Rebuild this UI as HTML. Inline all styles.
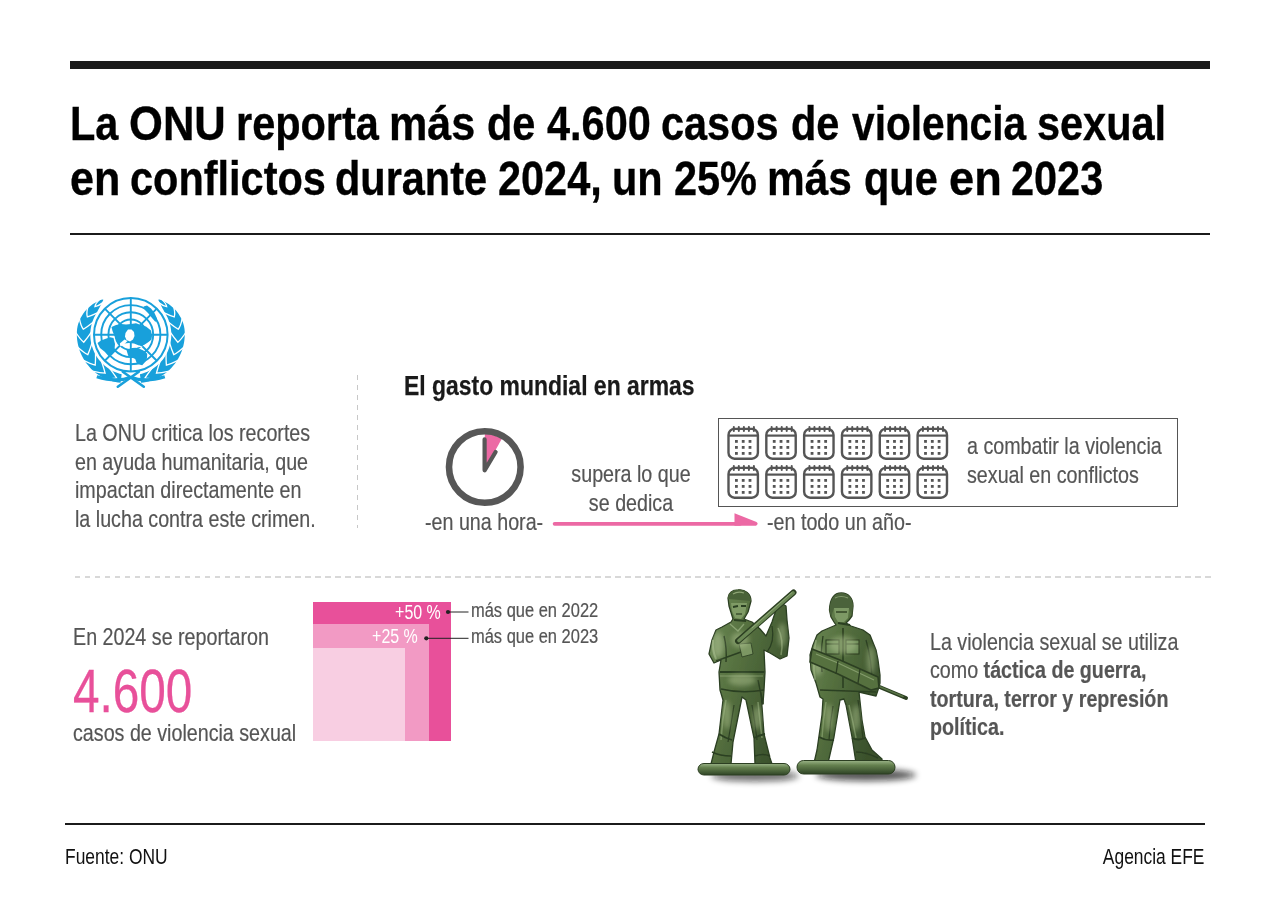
<!DOCTYPE html>
<html><head><meta charset="utf-8"><style>
html,body{margin:0;padding:0;background:#fff;}
body{width:1280px;height:916px;position:relative;overflow:hidden;font-family:"Liberation Sans",sans-serif;}
.t{position:absolute;white-space:nowrap;}
.t b{font-weight:bold;}
svg{position:absolute;left:0;top:0;}
</style></head><body>
<div style="position:absolute;left:70px;top:61px;width:1140px;height:8px;background:#1b1b1b"></div>
<div class="t" style="left:69.9px;top:95.99px;font-size:48.5px;line-height:54px;color:#000;font-weight:bold;transform:scaleX(0.855);transform-origin:0 0;-webkit-text-stroke:0.35px #000;">La</div>
<div class="t" style="left:129.398px;top:95.99px;font-size:48.5px;line-height:54px;color:#000;font-weight:bold;transform:scaleX(0.8986);transform-origin:0 0;-webkit-text-stroke:0.35px #000;">ONU</div>
<div class="t" style="left:236.3px;top:95.99px;font-size:48.5px;line-height:54px;color:#000;font-weight:bold;transform:scaleX(0.855);transform-origin:0 0;-webkit-text-stroke:0.35px #000;">reporta</div>
<div class="t" style="left:389.08px;top:95.99px;font-size:48.5px;line-height:54px;color:#000;font-weight:bold;transform:scaleX(0.8892);transform-origin:0 0;-webkit-text-stroke:0.35px #000;">más</div>
<div class="t" style="left:486.8px;top:95.99px;font-size:48.5px;line-height:54px;color:#000;font-weight:bold;transform:scaleX(0.855);transform-origin:0 0;-webkit-text-stroke:0.35px #000;">de</div>
<div class="t" style="left:547.4px;top:95.99px;font-size:48.5px;line-height:54px;color:#000;font-weight:bold;transform:scaleX(0.855);transform-origin:0 0;-webkit-text-stroke:0.35px #000;">4.600</div>
<div class="t" style="left:661.3px;top:95.99px;font-size:48.5px;line-height:54px;color:#000;font-weight:bold;transform:scaleX(0.855);transform-origin:0 0;-webkit-text-stroke:0.35px #000;">casos</div>
<div class="t" style="left:791.2px;top:95.99px;font-size:48.5px;line-height:54px;color:#000;font-weight:bold;transform:scaleX(0.855);transform-origin:0 0;-webkit-text-stroke:0.35px #000;">de</div>
<div class="t" style="left:851.8px;top:95.99px;font-size:48.5px;line-height:54px;color:#000;font-weight:bold;transform:scaleX(0.8388);transform-origin:0 0;-webkit-text-stroke:0.35px #000;">violencia</div>
<div class="t" style="left:1037.2px;top:95.99px;font-size:48.5px;line-height:54px;color:#000;font-weight:bold;transform:scaleX(0.855);transform-origin:0 0;-webkit-text-stroke:0.35px #000;">sexual</div>
<div class="t" style="left:69.622px;top:150.59px;font-size:48.5px;line-height:54px;color:#000;font-weight:bold;transform:scaleX(0.8883);transform-origin:0 0;-webkit-text-stroke:0.35px #000;">en</div>
<div class="t" style="left:129.5px;top:150.59px;font-size:48.5px;line-height:54px;color:#000;font-weight:bold;transform:scaleX(0.855);transform-origin:0 0;-webkit-text-stroke:0.35px #000;">conflictos</div>
<div class="t" style="left:334.5px;top:150.59px;font-size:48.5px;line-height:54px;color:#000;font-weight:bold;transform:scaleX(0.855);transform-origin:0 0;-webkit-text-stroke:0.35px #000;">durante</div>
<div class="t" style="left:498.4px;top:150.59px;font-size:48.5px;line-height:54px;color:#000;font-weight:bold;transform:scaleX(0.855);transform-origin:0 0;-webkit-text-stroke:0.35px #000;">2024,</div>
<div class="t" style="left:612.2px;top:150.59px;font-size:48.5px;line-height:54px;color:#000;font-weight:bold;transform:scaleX(0.855);transform-origin:0 0;-webkit-text-stroke:0.35px #000;">un</div>
<div class="t" style="left:674.1px;top:150.59px;font-size:48.5px;line-height:54px;color:#000;font-weight:bold;transform:scaleX(0.855);transform-origin:0 0;-webkit-text-stroke:0.35px #000;">25%</div>
<div class="t" style="left:766.931px;top:150.59px;font-size:48.5px;line-height:54px;color:#000;font-weight:bold;transform:scaleX(0.8747);transform-origin:0 0;-webkit-text-stroke:0.35px #000;">más</div>
<div class="t" style="left:864px;top:150.59px;font-size:48.5px;line-height:54px;color:#000;font-weight:bold;transform:scaleX(0.855);transform-origin:0 0;-webkit-text-stroke:0.35px #000;">que</div>
<div class="t" style="left:949.12px;top:150.59px;font-size:48.5px;line-height:54px;color:#000;font-weight:bold;transform:scaleX(0.932);transform-origin:0 0;-webkit-text-stroke:0.35px #000;">en</div>
<div class="t" style="left:1011.3px;top:150.59px;font-size:48.5px;line-height:54px;color:#000;font-weight:bold;transform:scaleX(0.855);transform-origin:0 0;-webkit-text-stroke:0.35px #000;">2023</div>
<div style="position:absolute;left:70px;top:233px;width:1140px;height:2px;background:#1b1b1b"></div>
<div class="t" style="left:74.5px;top:418.78px;font-size:24px;line-height:28.8px;color:#555;font-weight:normal;transform:scaleX(0.82);transform-origin:0 0;-webkit-text-stroke:0.2px #555;">La ONU critica los recortes<br>en ayuda humanitaria, que<br>impactan directamente en<br>la lucha contra este crimen.</div>
<div style="position:absolute;left:357px;top:375px;width:1px;height:153px;background:repeating-linear-gradient(to bottom,#c8c8c8 0 5px,transparent 5px 10px)"></div>
<div class="t" style="left:404px;top:369.17px;font-size:27.5px;line-height:33.0px;color:#1a1a1a;font-weight:bold;transform:scaleX(0.834);transform-origin:0 0;-webkit-text-stroke:0.25px #1a1a1a;">El gasto mundial en armas</div>
<div class="t" style="left:131px;width:1000px;text-align:center;top:458.68px;font-size:24px;line-height:29px;color:#555;font-weight:normal;transform:scaleX(0.82);transform-origin:50% 0;-webkit-text-stroke:0.2px #555;">supera lo que<br>se dedica</div>
<div class="t" style="left:424.5px;top:508.08px;font-size:24px;line-height:28.799999999999997px;color:#555;font-weight:normal;transform:scaleX(0.82);transform-origin:0 0;-webkit-text-stroke:0.2px #555;">-en una hora-</div>
<div class="t" style="left:766.5px;top:508.08px;font-size:24px;line-height:28.799999999999997px;color:#555;font-weight:normal;transform:scaleX(0.82);transform-origin:0 0;-webkit-text-stroke:0.2px #555;">-en todo un año-</div>
<div class="t" style="left:966.5px;top:431.08px;font-size:24px;line-height:29.2px;color:#555;font-weight:normal;transform:scaleX(0.82);transform-origin:0 0;-webkit-text-stroke:0.2px #555;">a combatir la violencia<br>sexual en conflictos</div>
<div style="position:absolute;left:718px;top:418px;width:458px;height:87px;border:1px solid #555"></div>
<div style="position:absolute;left:75px;top:576px;width:1136px;height:2px;background:repeating-linear-gradient(to right,#d8d8d8 0 5.5px,transparent 5.5px 10px)"></div>
<div class="t" style="left:73px;top:623.28px;font-size:24px;line-height:28.799999999999997px;color:#555;font-weight:normal;transform:scaleX(0.82);transform-origin:0 0;-webkit-text-stroke:0.2px #555;">En 2024 se reportaron</div>
<div class="t" style="left:72.5px;top:653.61px;font-size:61.9px;line-height:74.28px;color:#e8509a;font-weight:normal;transform:scaleX(0.771);transform-origin:0 0;-webkit-text-stroke:0.3px #e8509a;">4.600</div>
<div class="t" style="left:73px;top:718.78px;font-size:24px;line-height:28.799999999999997px;color:#555;font-weight:normal;transform:scaleX(0.82);transform-origin:0 0;-webkit-text-stroke:0.2px #555;">casos de violencia sexual</div>
<div style="position:absolute;left:313px;top:602px;width:138px;height:139px;background:#e8509a"></div>
<div style="position:absolute;left:313px;top:624px;width:116px;height:117px;background:#f29ac4"></div>
<div style="position:absolute;left:313px;top:648px;width:92px;height:93px;background:#f8cee2"></div>
<div class="t" style="right:839px;top:601.04px;font-size:19.5px;line-height:23.4px;color:#fff;font-weight:normal;transform:scaleX(0.82);transform-origin:100% 0;">+50 %</div>
<div class="t" style="right:862px;top:625.04px;font-size:19.5px;line-height:23.4px;color:#fff;font-weight:normal;transform:scaleX(0.82);transform-origin:100% 0;">+25 %</div>
<div class="t" style="left:471px;top:596.97px;font-size:20px;line-height:26.2px;color:#555;font-weight:normal;transform:scaleX(0.823);transform-origin:0 0;-webkit-text-stroke:0.2px #555;">más que en 2022<br>más que en 2023</div>
<div class="t" style="left:930px;top:627.68px;font-size:24px;line-height:28.6px;color:#555;font-weight:normal;transform:scaleX(0.82);transform-origin:0 0;-webkit-text-stroke:0.2px #555;">La violencia sexual se utiliza<br>como <b>táctica de guerra,</b><br><b>tortura, terror y represión</b><br><b>política.</b></div>
<div style="position:absolute;left:65px;top:822.5px;width:1140px;height:2px;background:#1b1b1b"></div>
<div class="t" style="left:65px;top:844.65px;font-size:21.5px;line-height:25.8px;color:#111;font-weight:normal;transform:scaleX(0.81);transform-origin:0 0;">Fuente: ONU</div>
<div class="t" style="right:76px;top:844.95px;font-size:21.5px;line-height:25.8px;color:#111;font-weight:normal;transform:scaleX(0.81);transform-origin:100% 0;">Agencia EFE</div>

<svg width="1280" height="916" viewBox="0 0 1280 916"><path d="M484.6,470.0 L484.8,434.0 A33.0,33.0 0 0 1 501.80,438.71 Z" fill="#ec69a4"/><circle cx="484.8" cy="467.0" r="35.8" fill="none" stroke="#575757" stroke-width="6.6"/><path d="M484.6,439.3 L484.6,470.3 L495.6,452" fill="none" stroke="#575757" stroke-width="4.2" stroke-linecap="round" stroke-linejoin="round"/><path d="M554.6,523.85 L740,523.85" stroke="#ec69a4" stroke-width="3.7" stroke-linecap="round"/><path d="M734.5,513.2 L734.5,525.7 L756,525.7 Q759,523.8 756.5,522 Z" fill="#ec69a4"/><rect x="728.50" y="428.90" width="29.4" height="29.8" rx="6" ry="6" fill="none" stroke="#555" stroke-width="2.4"/><path d="M728.50,435.60 H757.90" stroke="#555" stroke-width="2.2"/><path d="M733.80,427.00 V431.10" stroke="#555" stroke-width="2" stroke-linecap="round"/><path d="M738.80,427.00 V431.10" stroke="#555" stroke-width="2" stroke-linecap="round"/><path d="M743.90,427.00 V431.10" stroke="#555" stroke-width="2" stroke-linecap="round"/><path d="M748.90,427.00 V431.10" stroke="#555" stroke-width="2" stroke-linecap="round"/><path d="M753.90,427.00 V431.10" stroke="#555" stroke-width="2" stroke-linecap="round"/><rect x="735.00" y="440.00" width="2.8" height="2.8" fill="#555"/><rect x="735.00" y="446.00" width="2.8" height="2.8" fill="#555"/><rect x="735.00" y="452.00" width="2.8" height="2.8" fill="#555"/><rect x="741.80" y="440.00" width="2.8" height="2.8" fill="#555"/><rect x="741.80" y="446.00" width="2.8" height="2.8" fill="#555"/><rect x="741.80" y="452.00" width="2.8" height="2.8" fill="#555"/><rect x="748.60" y="440.00" width="2.8" height="2.8" fill="#555"/><rect x="748.60" y="446.00" width="2.8" height="2.8" fill="#555"/><rect x="748.60" y="452.00" width="2.8" height="2.8" fill="#555"/><rect x="766.32" y="428.90" width="29.4" height="29.8" rx="6" ry="6" fill="none" stroke="#555" stroke-width="2.4"/><path d="M766.32,435.60 H795.72" stroke="#555" stroke-width="2.2"/><path d="M771.62,427.00 V431.10" stroke="#555" stroke-width="2" stroke-linecap="round"/><path d="M776.62,427.00 V431.10" stroke="#555" stroke-width="2" stroke-linecap="round"/><path d="M781.72,427.00 V431.10" stroke="#555" stroke-width="2" stroke-linecap="round"/><path d="M786.72,427.00 V431.10" stroke="#555" stroke-width="2" stroke-linecap="round"/><path d="M791.72,427.00 V431.10" stroke="#555" stroke-width="2" stroke-linecap="round"/><rect x="772.82" y="440.00" width="2.8" height="2.8" fill="#555"/><rect x="772.82" y="446.00" width="2.8" height="2.8" fill="#555"/><rect x="772.82" y="452.00" width="2.8" height="2.8" fill="#555"/><rect x="779.62" y="440.00" width="2.8" height="2.8" fill="#555"/><rect x="779.62" y="446.00" width="2.8" height="2.8" fill="#555"/><rect x="779.62" y="452.00" width="2.8" height="2.8" fill="#555"/><rect x="786.42" y="440.00" width="2.8" height="2.8" fill="#555"/><rect x="786.42" y="446.00" width="2.8" height="2.8" fill="#555"/><rect x="786.42" y="452.00" width="2.8" height="2.8" fill="#555"/><rect x="804.14" y="428.90" width="29.4" height="29.8" rx="6" ry="6" fill="none" stroke="#555" stroke-width="2.4"/><path d="M804.14,435.60 H833.54" stroke="#555" stroke-width="2.2"/><path d="M809.44,427.00 V431.10" stroke="#555" stroke-width="2" stroke-linecap="round"/><path d="M814.44,427.00 V431.10" stroke="#555" stroke-width="2" stroke-linecap="round"/><path d="M819.54,427.00 V431.10" stroke="#555" stroke-width="2" stroke-linecap="round"/><path d="M824.54,427.00 V431.10" stroke="#555" stroke-width="2" stroke-linecap="round"/><path d="M829.54,427.00 V431.10" stroke="#555" stroke-width="2" stroke-linecap="round"/><rect x="810.64" y="440.00" width="2.8" height="2.8" fill="#555"/><rect x="810.64" y="446.00" width="2.8" height="2.8" fill="#555"/><rect x="810.64" y="452.00" width="2.8" height="2.8" fill="#555"/><rect x="817.44" y="440.00" width="2.8" height="2.8" fill="#555"/><rect x="817.44" y="446.00" width="2.8" height="2.8" fill="#555"/><rect x="817.44" y="452.00" width="2.8" height="2.8" fill="#555"/><rect x="824.24" y="440.00" width="2.8" height="2.8" fill="#555"/><rect x="824.24" y="446.00" width="2.8" height="2.8" fill="#555"/><rect x="824.24" y="452.00" width="2.8" height="2.8" fill="#555"/><rect x="841.96" y="428.90" width="29.4" height="29.8" rx="6" ry="6" fill="none" stroke="#555" stroke-width="2.4"/><path d="M841.96,435.60 H871.36" stroke="#555" stroke-width="2.2"/><path d="M847.26,427.00 V431.10" stroke="#555" stroke-width="2" stroke-linecap="round"/><path d="M852.26,427.00 V431.10" stroke="#555" stroke-width="2" stroke-linecap="round"/><path d="M857.36,427.00 V431.10" stroke="#555" stroke-width="2" stroke-linecap="round"/><path d="M862.36,427.00 V431.10" stroke="#555" stroke-width="2" stroke-linecap="round"/><path d="M867.36,427.00 V431.10" stroke="#555" stroke-width="2" stroke-linecap="round"/><rect x="848.46" y="440.00" width="2.8" height="2.8" fill="#555"/><rect x="848.46" y="446.00" width="2.8" height="2.8" fill="#555"/><rect x="848.46" y="452.00" width="2.8" height="2.8" fill="#555"/><rect x="855.26" y="440.00" width="2.8" height="2.8" fill="#555"/><rect x="855.26" y="446.00" width="2.8" height="2.8" fill="#555"/><rect x="855.26" y="452.00" width="2.8" height="2.8" fill="#555"/><rect x="862.06" y="440.00" width="2.8" height="2.8" fill="#555"/><rect x="862.06" y="446.00" width="2.8" height="2.8" fill="#555"/><rect x="862.06" y="452.00" width="2.8" height="2.8" fill="#555"/><rect x="879.78" y="428.90" width="29.4" height="29.8" rx="6" ry="6" fill="none" stroke="#555" stroke-width="2.4"/><path d="M879.78,435.60 H909.18" stroke="#555" stroke-width="2.2"/><path d="M885.08,427.00 V431.10" stroke="#555" stroke-width="2" stroke-linecap="round"/><path d="M890.08,427.00 V431.10" stroke="#555" stroke-width="2" stroke-linecap="round"/><path d="M895.18,427.00 V431.10" stroke="#555" stroke-width="2" stroke-linecap="round"/><path d="M900.18,427.00 V431.10" stroke="#555" stroke-width="2" stroke-linecap="round"/><path d="M905.18,427.00 V431.10" stroke="#555" stroke-width="2" stroke-linecap="round"/><rect x="886.28" y="440.00" width="2.8" height="2.8" fill="#555"/><rect x="886.28" y="446.00" width="2.8" height="2.8" fill="#555"/><rect x="886.28" y="452.00" width="2.8" height="2.8" fill="#555"/><rect x="893.08" y="440.00" width="2.8" height="2.8" fill="#555"/><rect x="893.08" y="446.00" width="2.8" height="2.8" fill="#555"/><rect x="893.08" y="452.00" width="2.8" height="2.8" fill="#555"/><rect x="899.88" y="440.00" width="2.8" height="2.8" fill="#555"/><rect x="899.88" y="446.00" width="2.8" height="2.8" fill="#555"/><rect x="899.88" y="452.00" width="2.8" height="2.8" fill="#555"/><rect x="917.60" y="428.90" width="29.4" height="29.8" rx="6" ry="6" fill="none" stroke="#555" stroke-width="2.4"/><path d="M917.60,435.60 H947.00" stroke="#555" stroke-width="2.2"/><path d="M922.90,427.00 V431.10" stroke="#555" stroke-width="2" stroke-linecap="round"/><path d="M927.90,427.00 V431.10" stroke="#555" stroke-width="2" stroke-linecap="round"/><path d="M933.00,427.00 V431.10" stroke="#555" stroke-width="2" stroke-linecap="round"/><path d="M938.00,427.00 V431.10" stroke="#555" stroke-width="2" stroke-linecap="round"/><path d="M943.00,427.00 V431.10" stroke="#555" stroke-width="2" stroke-linecap="round"/><rect x="924.10" y="440.00" width="2.8" height="2.8" fill="#555"/><rect x="924.10" y="446.00" width="2.8" height="2.8" fill="#555"/><rect x="924.10" y="452.00" width="2.8" height="2.8" fill="#555"/><rect x="930.90" y="440.00" width="2.8" height="2.8" fill="#555"/><rect x="930.90" y="446.00" width="2.8" height="2.8" fill="#555"/><rect x="930.90" y="452.00" width="2.8" height="2.8" fill="#555"/><rect x="937.70" y="440.00" width="2.8" height="2.8" fill="#555"/><rect x="937.70" y="446.00" width="2.8" height="2.8" fill="#555"/><rect x="937.70" y="452.00" width="2.8" height="2.8" fill="#555"/><rect x="728.50" y="467.90" width="29.4" height="29.8" rx="6" ry="6" fill="none" stroke="#555" stroke-width="2.4"/><path d="M728.50,474.60 H757.90" stroke="#555" stroke-width="2.2"/><path d="M733.80,466.00 V470.10" stroke="#555" stroke-width="2" stroke-linecap="round"/><path d="M738.80,466.00 V470.10" stroke="#555" stroke-width="2" stroke-linecap="round"/><path d="M743.90,466.00 V470.10" stroke="#555" stroke-width="2" stroke-linecap="round"/><path d="M748.90,466.00 V470.10" stroke="#555" stroke-width="2" stroke-linecap="round"/><path d="M753.90,466.00 V470.10" stroke="#555" stroke-width="2" stroke-linecap="round"/><rect x="735.00" y="479.00" width="2.8" height="2.8" fill="#555"/><rect x="735.00" y="485.00" width="2.8" height="2.8" fill="#555"/><rect x="735.00" y="491.00" width="2.8" height="2.8" fill="#555"/><rect x="741.80" y="479.00" width="2.8" height="2.8" fill="#555"/><rect x="741.80" y="485.00" width="2.8" height="2.8" fill="#555"/><rect x="741.80" y="491.00" width="2.8" height="2.8" fill="#555"/><rect x="748.60" y="479.00" width="2.8" height="2.8" fill="#555"/><rect x="748.60" y="485.00" width="2.8" height="2.8" fill="#555"/><rect x="748.60" y="491.00" width="2.8" height="2.8" fill="#555"/><rect x="766.32" y="467.90" width="29.4" height="29.8" rx="6" ry="6" fill="none" stroke="#555" stroke-width="2.4"/><path d="M766.32,474.60 H795.72" stroke="#555" stroke-width="2.2"/><path d="M771.62,466.00 V470.10" stroke="#555" stroke-width="2" stroke-linecap="round"/><path d="M776.62,466.00 V470.10" stroke="#555" stroke-width="2" stroke-linecap="round"/><path d="M781.72,466.00 V470.10" stroke="#555" stroke-width="2" stroke-linecap="round"/><path d="M786.72,466.00 V470.10" stroke="#555" stroke-width="2" stroke-linecap="round"/><path d="M791.72,466.00 V470.10" stroke="#555" stroke-width="2" stroke-linecap="round"/><rect x="772.82" y="479.00" width="2.8" height="2.8" fill="#555"/><rect x="772.82" y="485.00" width="2.8" height="2.8" fill="#555"/><rect x="772.82" y="491.00" width="2.8" height="2.8" fill="#555"/><rect x="779.62" y="479.00" width="2.8" height="2.8" fill="#555"/><rect x="779.62" y="485.00" width="2.8" height="2.8" fill="#555"/><rect x="779.62" y="491.00" width="2.8" height="2.8" fill="#555"/><rect x="786.42" y="479.00" width="2.8" height="2.8" fill="#555"/><rect x="786.42" y="485.00" width="2.8" height="2.8" fill="#555"/><rect x="786.42" y="491.00" width="2.8" height="2.8" fill="#555"/><rect x="804.14" y="467.90" width="29.4" height="29.8" rx="6" ry="6" fill="none" stroke="#555" stroke-width="2.4"/><path d="M804.14,474.60 H833.54" stroke="#555" stroke-width="2.2"/><path d="M809.44,466.00 V470.10" stroke="#555" stroke-width="2" stroke-linecap="round"/><path d="M814.44,466.00 V470.10" stroke="#555" stroke-width="2" stroke-linecap="round"/><path d="M819.54,466.00 V470.10" stroke="#555" stroke-width="2" stroke-linecap="round"/><path d="M824.54,466.00 V470.10" stroke="#555" stroke-width="2" stroke-linecap="round"/><path d="M829.54,466.00 V470.10" stroke="#555" stroke-width="2" stroke-linecap="round"/><rect x="810.64" y="479.00" width="2.8" height="2.8" fill="#555"/><rect x="810.64" y="485.00" width="2.8" height="2.8" fill="#555"/><rect x="810.64" y="491.00" width="2.8" height="2.8" fill="#555"/><rect x="817.44" y="479.00" width="2.8" height="2.8" fill="#555"/><rect x="817.44" y="485.00" width="2.8" height="2.8" fill="#555"/><rect x="817.44" y="491.00" width="2.8" height="2.8" fill="#555"/><rect x="824.24" y="479.00" width="2.8" height="2.8" fill="#555"/><rect x="824.24" y="485.00" width="2.8" height="2.8" fill="#555"/><rect x="824.24" y="491.00" width="2.8" height="2.8" fill="#555"/><rect x="841.96" y="467.90" width="29.4" height="29.8" rx="6" ry="6" fill="none" stroke="#555" stroke-width="2.4"/><path d="M841.96,474.60 H871.36" stroke="#555" stroke-width="2.2"/><path d="M847.26,466.00 V470.10" stroke="#555" stroke-width="2" stroke-linecap="round"/><path d="M852.26,466.00 V470.10" stroke="#555" stroke-width="2" stroke-linecap="round"/><path d="M857.36,466.00 V470.10" stroke="#555" stroke-width="2" stroke-linecap="round"/><path d="M862.36,466.00 V470.10" stroke="#555" stroke-width="2" stroke-linecap="round"/><path d="M867.36,466.00 V470.10" stroke="#555" stroke-width="2" stroke-linecap="round"/><rect x="848.46" y="479.00" width="2.8" height="2.8" fill="#555"/><rect x="848.46" y="485.00" width="2.8" height="2.8" fill="#555"/><rect x="848.46" y="491.00" width="2.8" height="2.8" fill="#555"/><rect x="855.26" y="479.00" width="2.8" height="2.8" fill="#555"/><rect x="855.26" y="485.00" width="2.8" height="2.8" fill="#555"/><rect x="855.26" y="491.00" width="2.8" height="2.8" fill="#555"/><rect x="862.06" y="479.00" width="2.8" height="2.8" fill="#555"/><rect x="862.06" y="485.00" width="2.8" height="2.8" fill="#555"/><rect x="862.06" y="491.00" width="2.8" height="2.8" fill="#555"/><rect x="879.78" y="467.90" width="29.4" height="29.8" rx="6" ry="6" fill="none" stroke="#555" stroke-width="2.4"/><path d="M879.78,474.60 H909.18" stroke="#555" stroke-width="2.2"/><path d="M885.08,466.00 V470.10" stroke="#555" stroke-width="2" stroke-linecap="round"/><path d="M890.08,466.00 V470.10" stroke="#555" stroke-width="2" stroke-linecap="round"/><path d="M895.18,466.00 V470.10" stroke="#555" stroke-width="2" stroke-linecap="round"/><path d="M900.18,466.00 V470.10" stroke="#555" stroke-width="2" stroke-linecap="round"/><path d="M905.18,466.00 V470.10" stroke="#555" stroke-width="2" stroke-linecap="round"/><rect x="886.28" y="479.00" width="2.8" height="2.8" fill="#555"/><rect x="886.28" y="485.00" width="2.8" height="2.8" fill="#555"/><rect x="886.28" y="491.00" width="2.8" height="2.8" fill="#555"/><rect x="893.08" y="479.00" width="2.8" height="2.8" fill="#555"/><rect x="893.08" y="485.00" width="2.8" height="2.8" fill="#555"/><rect x="893.08" y="491.00" width="2.8" height="2.8" fill="#555"/><rect x="899.88" y="479.00" width="2.8" height="2.8" fill="#555"/><rect x="899.88" y="485.00" width="2.8" height="2.8" fill="#555"/><rect x="899.88" y="491.00" width="2.8" height="2.8" fill="#555"/><rect x="917.60" y="467.90" width="29.4" height="29.8" rx="6" ry="6" fill="none" stroke="#555" stroke-width="2.4"/><path d="M917.60,474.60 H947.00" stroke="#555" stroke-width="2.2"/><path d="M922.90,466.00 V470.10" stroke="#555" stroke-width="2" stroke-linecap="round"/><path d="M927.90,466.00 V470.10" stroke="#555" stroke-width="2" stroke-linecap="round"/><path d="M933.00,466.00 V470.10" stroke="#555" stroke-width="2" stroke-linecap="round"/><path d="M938.00,466.00 V470.10" stroke="#555" stroke-width="2" stroke-linecap="round"/><path d="M943.00,466.00 V470.10" stroke="#555" stroke-width="2" stroke-linecap="round"/><rect x="924.10" y="479.00" width="2.8" height="2.8" fill="#555"/><rect x="924.10" y="485.00" width="2.8" height="2.8" fill="#555"/><rect x="924.10" y="491.00" width="2.8" height="2.8" fill="#555"/><rect x="930.90" y="479.00" width="2.8" height="2.8" fill="#555"/><rect x="930.90" y="485.00" width="2.8" height="2.8" fill="#555"/><rect x="930.90" y="491.00" width="2.8" height="2.8" fill="#555"/><rect x="937.70" y="479.00" width="2.8" height="2.8" fill="#555"/><rect x="937.70" y="485.00" width="2.8" height="2.8" fill="#555"/><rect x="937.70" y="491.00" width="2.8" height="2.8" fill="#555"/><circle cx="448" cy="612" r="2.1" fill="#222"/><path d="M448,612 H468.5" stroke="#222" stroke-width="1"/><circle cx="426.3" cy="638.3" r="2.1" fill="#222"/><path d="M426.3,638.3 H468.5" stroke="#222" stroke-width="1"/><g fill="none" stroke="#18a0db"><circle cx="130.8" cy="334.7" r="36.8" stroke-width="2"/><circle cx="130.8" cy="334.7" r="29.6" stroke-width="1.9"/><circle cx="130.8" cy="334.7" r="22.4" stroke-width="1.9"/><circle cx="130.8" cy="334.7" r="15.2" stroke-width="1.9"/><path d="M94.00000000000001,334.7 H167.60000000000002 M130.8,297.9 V371.5" stroke-width="1.9"/><path d="M104.78,308.68 L156.82,360.72 M156.82,308.68 L104.78,360.72" stroke-width="1.9"/></g><g fill="#18a0db"><path d="M111.5,327 L116,325 L121,324 L126,324.5 L131,324 L136,323.2 L141,325 L146,326.4 L151,330.5 L152,336 L151.5,339.5 L148.5,342 L144,345 L139,345.5 L134,343.5 L129,343 L124,343.5 L119,344.5 L117,340.5 L114.5,336 L112.5,331 Z"/><path d="M126.5,350 L131,348.2 L135.2,347.4 L139,348.5 L143.4,350.4 L147.2,353.8 L147,358 L146,361 L142.2,365.2 L137.1,364 L135.2,359 L131,357 L128.2,355.7 Z"/><path d="M97.5,343 L101,340.5 L105,339 L110,337.2 L113.5,338 L115,344 L114.5,350 L112,354.5 L108.5,356 L105,352 L100,348 Z"/><path d="M143.5,306.5 L147,305.5 L151,308.5 L154.5,313 L157,318.5 L155.5,322 L152,318 L148,313 L145,310 Z"/></g><path d="M125.5,333 L128,329.5 L131.5,329.5 L134,332 L134.5,336 L133,339.5 L130,341.5 L126.5,340 L125,336.5 Z" fill="#fff"/><path d="M124.5,339.5 L127.5,341 L124,344.5 L120.5,346.5 L119.8,343.5 Z" fill="#fff"/><path d="M140,345.8 L143,346.5 L137,347.6 L131,347.8 Z" fill="#fff"/><path d="M120.57,382.81 L118.00,382.47 L115.43,381.99 L112.88,381.38 L110.36,380.62 L107.86,379.72 L105.41,378.68 L103.00,377.51 L100.65,376.19 L98.37,374.74 L96.17,373.16 L94.04,371.46 L92.01,369.63 L90.07,367.68 L88.25,365.62 L86.53,363.45 L84.94,361.18 L83.47,358.82 L82.14,356.37 L80.94,353.84 L79.89,351.24 L78.99,348.58 L78.24,345.87 L77.65,343.12 L77.21,340.33 L76.94,337.52 L76.83,334.70 L76.88,331.87 L77.10,329.06 L77.58,326.27 L78.32,323.54 L79.28,320.90 L80.44,318.34 L81.79,315.89 L83.30,313.55 L84.97,311.35 L86.79,309.29 L88.73,307.38 L90.79,305.63 L92.95,304.05 L95.19,302.64 L97.50,301.40 L99.87,300.35 L102.28,299.49 L103.40,299.63 L102.27,301.88 L101.20,304.04 L100.16,306.13 L99.14,308.14 L98.13,310.08 L97.11,311.98 L96.08,313.84 L95.04,315.69 L94.09,317.58 L93.25,319.53 L92.51,321.51 L91.87,323.54 L91.34,325.59 L90.92,327.67 L90.60,329.76 L90.40,331.87 L90.31,333.99 L90.32,336.11 L90.45,338.23 L90.69,340.34 L91.04,342.43 L91.50,344.50 L92.07,346.54 L92.74,348.55 L93.52,350.52 L94.40,352.45 L95.38,354.33 L96.45,356.16 L97.62,357.93 L98.89,359.63 L100.23,361.27 L101.67,362.83 L103.18,364.32 L104.77,365.72 L106.43,367.04 L108.15,368.28 L109.94,369.42 L111.79,370.46 L113.68,371.41 L115.63,372.25 L117.61,372.99 L119.64,373.63 L121.69,374.16 Z" fill="#18a0db"/><path d="M109.29,367.83 Q114.32,374.48 116.70,378.08 Q112.56,378.74 103.61,379.07" fill="none" stroke="#fff" stroke-width="1.3"/><path d="M101.38,361.06 Q104.05,368.88 105.10,373.21 Q100.79,373.05 92.08,371.19" fill="none" stroke="#fff" stroke-width="1.3"/><path d="M95.52,352.46 Q95.63,360.64 95.18,365.20 Q90.89,364.14 83.05,360.20" fill="none" stroke="#fff" stroke-width="1.3"/><path d="M92.10,342.62 Q89.75,350.35 87.82,354.61 Q83.81,352.62 77.44,346.92" fill="none" stroke="#fff" stroke-width="1.3"/><path d="M91.38,332.24 Q86.91,338.79 83.75,342.27 Q80.29,339.41 75.85,332.49" fill="none" stroke="#fff" stroke-width="1.3"/><path d="M93.39,322.03 Q87.38,326.88 83.37,329.24 Q80.74,325.68 79.44,318.51" fill="none" stroke="#fff" stroke-width="1.3"/><path d="M97.90,312.63 Q91.44,315.71 87.41,316.92 Q86.13,313.15 87.91,307.17" fill="none" stroke="#fff" stroke-width="1.3"/><path d="M102.93,302.64 Q98.30,306.15 94.95,306.69 Q95.32,303.53 99.34,299.89" fill="none" stroke="#fff" stroke-width="1.3"/><path d="M141.03,382.81 L143.60,382.47 L146.17,381.99 L148.72,381.38 L151.24,380.62 L153.74,379.72 L156.19,378.68 L158.60,377.51 L160.95,376.19 L163.23,374.74 L165.43,373.16 L167.56,371.46 L169.59,369.63 L171.53,367.68 L173.35,365.62 L175.07,363.45 L176.66,361.18 L178.13,358.82 L179.46,356.37 L180.66,353.84 L181.71,351.24 L182.61,348.58 L183.36,345.87 L183.95,343.12 L184.39,340.33 L184.66,337.52 L184.77,334.70 L184.72,331.87 L184.50,329.06 L184.02,326.27 L183.28,323.54 L182.32,320.90 L181.16,318.34 L179.81,315.89 L178.30,313.55 L176.63,311.35 L174.81,309.29 L172.87,307.38 L170.81,305.63 L168.65,304.05 L166.41,302.64 L164.10,301.40 L161.73,300.35 L159.32,299.49 L158.20,299.63 L159.33,301.88 L160.40,304.04 L161.44,306.13 L162.46,308.14 L163.47,310.08 L164.49,311.98 L165.52,313.84 L166.56,315.69 L167.51,317.58 L168.35,319.53 L169.09,321.51 L169.73,323.54 L170.26,325.59 L170.68,327.67 L171.00,329.76 L171.20,331.87 L171.29,333.99 L171.28,336.11 L171.15,338.23 L170.91,340.34 L170.56,342.43 L170.10,344.50 L169.53,346.54 L168.86,348.55 L168.08,350.52 L167.20,352.45 L166.22,354.33 L165.15,356.16 L163.98,357.93 L162.71,359.63 L161.37,361.27 L159.93,362.83 L158.42,364.32 L156.83,365.72 L155.17,367.04 L153.45,368.28 L151.66,369.42 L149.81,370.46 L147.92,371.41 L145.97,372.25 L143.99,372.99 L141.96,373.63 L139.91,374.16 Z" fill="#18a0db"/><path d="M152.31,367.83 Q147.28,374.48 144.90,378.08 Q149.04,378.74 157.99,379.07" fill="none" stroke="#fff" stroke-width="1.3"/><path d="M160.22,361.06 Q157.55,368.88 156.50,373.21 Q160.81,373.05 169.52,371.19" fill="none" stroke="#fff" stroke-width="1.3"/><path d="M166.08,352.46 Q165.97,360.64 166.42,365.20 Q170.71,364.14 178.55,360.20" fill="none" stroke="#fff" stroke-width="1.3"/><path d="M169.50,342.62 Q171.85,350.35 173.78,354.61 Q177.79,352.62 184.16,346.92" fill="none" stroke="#fff" stroke-width="1.3"/><path d="M170.22,332.24 Q174.69,338.79 177.85,342.27 Q181.31,339.41 185.75,332.49" fill="none" stroke="#fff" stroke-width="1.3"/><path d="M168.21,322.03 Q174.22,326.88 178.23,329.24 Q180.86,325.68 182.16,318.51" fill="none" stroke="#fff" stroke-width="1.3"/><path d="M163.70,312.63 Q170.16,315.71 174.19,316.92 Q175.47,313.15 173.69,307.17" fill="none" stroke="#fff" stroke-width="1.3"/><path d="M158.67,302.64 Q163.30,306.15 166.65,306.69 Q166.28,303.53 162.26,299.89" fill="none" stroke="#fff" stroke-width="1.3"/><path d="M96.80000000000001,376.7 Q116.80000000000001,382.7 130.8,377.2 M164.8,376.7 Q144.8,382.7 130.8,377.2" stroke="#18a0db" stroke-width="3.2" fill="none"/><path d="M117.80000000000001,386.7 L138.8,371.7 M143.8,386.7 L122.80000000000001,371.7" stroke="#18a0db" stroke-width="2.6" fill="none" stroke-linecap="round"/><defs><linearGradient id="sg" x1="0" y1="0" x2="1" y2="0.6"><stop offset="0" stop-color="#6f8c58"/><stop offset="0.45" stop-color="#55703f"/><stop offset="1" stop-color="#3a512c"/></linearGradient><linearGradient id="bg" x1="0" y1="0" x2="0" y2="1"><stop offset="0" stop-color="#9bb488"/><stop offset="0.35" stop-color="#65814f"/><stop offset="1" stop-color="#2f4426"/></linearGradient><filter id="blur" x="-30%" y="-150%" width="160%" height="400%"><feGaussianBlur stdDeviation="3.2"/></filter><filter id="hblur" x="-50%" y="-50%" width="200%" height="200%"><feGaussianBlur stdDeviation="2.5"/></filter><filter id="soft" x="-5%" y="-5%" width="110%" height="110%"><feGaussianBlur stdDeviation="0.45"/></filter></defs><ellipse cx="755" cy="776" rx="44" ry="5.5" fill="#111" opacity="0.6" filter="url(#blur)"/><ellipse cx="866" cy="775" rx="50" ry="6" fill="#111" opacity="0.7" filter="url(#blur)"/><g filter="url(#soft)"><path d="M738,590 C745,589 751,594 751,601 L748,612 L744,619 L752,622 L760,629 L766,636 L772,622 L776,610 L781,603 L786,606 L787,620 L789,638 L787,656 L780,659 L770,653 L764,650 L765,672 L764,690 L763,704 L761,693 L764,734 L770,758 L772,764 L755,764 L754,738 L746,700 L742,697 L733,742 L731,764 L711,764 L714,752 L719,734 L723,700 L720,690 L719,672 L721,660 L714,663 L709,654 L712,640 L716,630 L722,627 L731,622 L733,619 L729,606 L728,598 C729,592 733,590 738,590 Z" fill="url(#sg)" stroke="#2c3f22" stroke-width="1.3" stroke-linejoin="round"/><path d="M728,599 C728,592 733,589.5 738.5,589.5 C745,589.5 751,594 751,601 L740,600 Z" fill="#4a6238"/><path d="M733,594 Q738,591 744,593" stroke="#a9c08f" stroke-width="1.2" fill="none" opacity="0.7"/><path d="M731,603 L747,603 L745,614 L741,619 L735,618 L732,611 Z" fill="#7f9b66"/><path d="M733,607 L738,606 M741,606 L746,606" stroke="#2c3f22" stroke-width="1.8"/><path d="M736,614 L742,614" stroke="#2c3f22" stroke-width="1.2"/><path d="M734,620 L746,621" stroke="#2c3f22" stroke-width="2"/><path d="M730,624 L738,631 L744,624" stroke="#a9c08f" stroke-width="1.3" fill="none" opacity="0.6"/><path d="M713,640 Q712,650 716,659" stroke="#a9c08f" stroke-width="2" fill="none" opacity="0.55"/><path d="M724,636 Q727,648 726,662 M716,661 Q730,656 741,652" stroke="#2c3f22" stroke-width="1.4" fill="none"/><path d="M778,628 Q784,640 781,655" stroke="#a9c08f" stroke-width="1.6" fill="none" opacity="0.5"/><path d="M767,652 Q775,642 772,626" stroke="#2c3f22" stroke-width="1.2" fill="none"/><path d="M739,644 L751,643 L753,654 L742,657 Z" fill="#7b9763" stroke="#2c3f22" stroke-width="0.8"/><path d="M720,672 L764,672" stroke="#2c3f22" stroke-width="2"/><path d="M720,676 L763,676" stroke="#a9c08f" stroke-width="1" opacity="0.5"/><path d="M721,689 Q742,694 764,690" stroke="#2c3f22" stroke-width="1.6" fill="none"/><path d="M758,680 L763,704" stroke="#2c3f22" stroke-width="1.4" fill="none"/><path d="M726,700 Q722,720 721,740 M758,702 Q760,722 762,738" stroke="#a9c08f" stroke-width="1.6" fill="none" opacity="0.45"/><path d="M734,705 Q731,725 728,742 M752,705 Q755,722 757,740" stroke="#2c3f22" stroke-width="1.2" fill="none"/><path d="M719,734 Q725,738 732,740 M754,738 Q760,735 765,734" stroke="#2c3f22" stroke-width="1.8" fill="none"/><path d="M712,752 Q720,756 731,756 M755,756 Q763,753 770,756" stroke="#2c3f22" stroke-width="1.4" fill="none"/></g><clipPath id="c1"><path d="M738,590 C745,589 751,594 751,601 L748,612 L744,619 L752,622 L760,629 L766,636 L772,622 L776,610 L781,603 L786,606 L787,620 L789,638 L787,656 L780,659 L770,653 L764,650 L765,672 L764,690 L763,704 L761,693 L764,734 L770,758 L772,764 L755,764 L754,738 L746,700 L742,697 L733,742 L731,764 L711,764 L714,752 L719,734 L723,700 L720,690 L719,672 L721,660 L714,663 L709,654 L712,640 L716,630 L722,627 L731,622 L733,619 L729,606 L728,598 C729,592 733,590 738,590 Z"/></clipPath><g clip-path="url(#c1)" filter="url(#hblur)" opacity="0.45"><ellipse cx="718" cy="645" rx="6" ry="13" fill="#c5d6a8"/><ellipse cx="740" cy="640" rx="9" ry="8" fill="#b9cc9a"/><ellipse cx="742" cy="680" rx="14" ry="6" fill="#b9cc9a"/><ellipse cx="727" cy="715" rx="4" ry="14" fill="#b9cc9a"/><ellipse cx="757" cy="718" rx="4" ry="12" fill="#b9cc9a"/><ellipse cx="782" cy="635" rx="4" ry="12" fill="#b9cc9a"/></g><path d="M793.5,592.5 L738,641" stroke="#2c3f22" stroke-width="6" stroke-linecap="round"/><path d="M793,593 L739,640.5" stroke="#6a8754" stroke-width="3.6" stroke-linecap="round"/><path d="M792,592.5 L752,628" stroke="#a9c08f" stroke-width="1" stroke-linecap="round" opacity="0.6"/><rect x="698" y="763.5" width="92" height="11.5" rx="6" fill="url(#bg)" stroke="#2c3f22" stroke-width="1"/><g filter="url(#soft)"><path d="M841.4,593 C848,593 853,598 853,606 L852,616 L849,620 L846,623 L851,626 L863,630 L870,635 L876,650 L878,660 L880,675 L880,683 L878,690 L876,696 L859,692 L862,720 L865,737 L872,750 L882,759 L882,763 L856,763 L852,737 L846,705 L844,699 L840,700 L834,737 L828,763 L814,763 L817,750 L819,736 L822,715 L823,699 L820,697 L816,683 L811,670 L810,655 L813,645 L817,635 L822,631 L836,625 L834,622 L831,617 L829.5,610 C830,598 835,593 841.4,593 Z" fill="url(#sg)" stroke="#2c3f22" stroke-width="1.3" stroke-linejoin="round"/><path d="M829.5,611 C830,598 835,593 841.4,593 C848,593 853,598 853,606 L852,616 L849,608 L834,608 L831,617 Z" fill="#4b633a"/><path d="M835,598 Q841,595 848,598" stroke="#a9c08f" stroke-width="1.2" fill="none" opacity="0.6"/><path d="M834,608 L849,608 L848,618 L844,622 L838,622 L835,617 Z" fill="#7d9965"/><path d="M836,612 L847,612" stroke="#2c3f22" stroke-width="1.4"/><path d="M838,623 L850,625" stroke="#2c3f22" stroke-width="2.2"/><rect x="826" y="640" width="13" height="14" fill="#6b8855" stroke="#2c3f22" stroke-width="1.1"/><path d="M826,644 H839" stroke="#2c3f22" stroke-width="1"/><rect x="846" y="640" width="13" height="14" fill="#6b8855" stroke="#2c3f22" stroke-width="1.1"/><path d="M846,644 H859" stroke="#2c3f22" stroke-width="1"/><path d="M843,628 L843,688" stroke="#2c3f22" stroke-width="1.6"/><path d="M816,640 Q812,660 815,680" stroke="#a9c08f" stroke-width="1.8" fill="none" opacity="0.5"/><path d="M823,636 Q820,655 822,672 M866,640 Q872,660 872,684" stroke="#2c3f22" stroke-width="1.3" fill="none"/><path d="M820,690 L876,692" stroke="#2c3f22" stroke-width="1.6"/><path d="M826,702 Q823,720 822,738 M849,705 Q853,722 856,738" stroke="#a9c08f" stroke-width="1.5" fill="none" opacity="0.45"/><path d="M833,706 Q830,722 829,740 M858,700 Q861,722 863,738" stroke="#2c3f22" stroke-width="1.2" fill="none"/><path d="M819,737 Q826,741 834,740 M852,738 Q858,741 865,738" stroke="#2c3f22" stroke-width="1.8" fill="none"/><path d="M856,752 Q866,752 878,758" stroke="#2c3f22" stroke-width="1.4" fill="none"/></g><clipPath id="c2"><path d="M841.4,593 C848,593 853,598 853,606 L852,616 L849,620 L846,623 L851,626 L863,630 L870,635 L876,650 L878,660 L880,675 L880,683 L878,690 L876,696 L859,692 L862,720 L865,737 L872,750 L882,759 L882,763 L856,763 L852,737 L846,705 L844,699 L840,700 L834,737 L828,763 L814,763 L817,750 L819,736 L822,715 L823,699 L820,697 L816,683 L811,670 L810,655 L813,645 L817,635 L822,631 L836,625 L834,622 L831,617 L829.5,610 C830,598 835,593 841.4,593 Z"/></clipPath><g clip-path="url(#c2)" filter="url(#hblur)" opacity="0.45"><ellipse cx="818" cy="660" rx="5" ry="16" fill="#c5d6a8"/><ellipse cx="843" cy="645" rx="14" ry="9" fill="#b9cc9a"/><ellipse cx="829" cy="718" rx="4" ry="14" fill="#b9cc9a"/><ellipse cx="856" cy="718" rx="4" ry="13" fill="#b9cc9a"/><ellipse cx="871" cy="660" rx="4" ry="14" fill="#b9cc9a"/></g><path d="M870,683 L906,698" stroke="#2c3f22" stroke-width="4" stroke-linecap="round"/><path d="M872,683.5 L903,696.5" stroke="#587345" stroke-width="1.6" stroke-linecap="round"/><path d="M812,649 L840,660 L878,677 L879,688 L871,690 L838,674 L810,662 Z" fill="#56713f" stroke="#2c3f22" stroke-width="1.6" stroke-linejoin="round"/><path d="M816,654 L838,663 L874,680" stroke="#a9c08f" stroke-width="1.2" opacity="0.55" fill="none"/><path d="M838,661 L836,674 M860,669 L858,683" stroke="#2c3f22" stroke-width="1.4" fill="none"/><rect x="797" y="760.5" width="98" height="13.5" rx="6.5" fill="url(#bg)" stroke="#2c3f22" stroke-width="1"/></svg>
</body></html>
